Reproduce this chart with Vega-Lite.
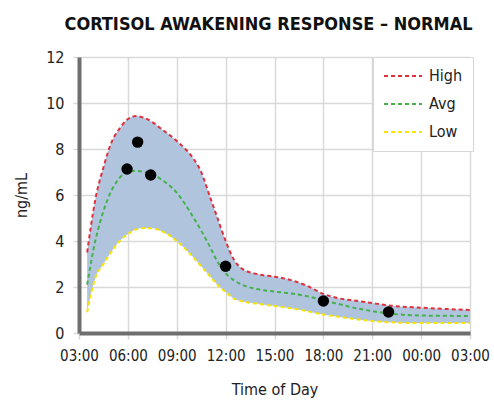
{
  "$schema": "https://vega.github.io/schema/vega-lite/v6.json",
  "autosize": "none",
  "width": 391,
  "height": 276,
  "padding": {"left": 79, "top": 57, "right": 24, "bottom": 73},
  "background": "white",
  "title": {
    "text": "CORTISOL AWAKENING RESPONSE – NORMAL",
    "font": "DejaVu Sans Condensed",
    "fontSize": 18,
    "fontWeight": "bold",
    "color": "#111111",
    "anchor": "middle",
    "offset": 15,
    "dx": -6
  },
  "datasets": {
    "band": [
      {"hour": 3.5, "High": 3.5, "Avg": 2.1, "Low": 0.9},
      {"hour": 4.0, "High": 5.8, "Avg": 4.0, "Low": 2.4},
      {"hour": 4.5, "High": 7.2, "Avg": 5.3, "Low": 3.0},
      {"hour": 5.0, "High": 8.3, "Avg": 6.2, "Low": 3.55},
      {"hour": 5.5, "High": 8.9, "Avg": 6.75, "Low": 4.0},
      {"hour": 6.0, "High": 9.3, "Avg": 7.0, "Low": 4.3},
      {"hour": 6.5, "High": 9.43, "Avg": 7.05, "Low": 4.5},
      {"hour": 7.0, "High": 9.35, "Avg": 7.0, "Low": 4.56},
      {"hour": 7.5, "High": 9.17, "Avg": 6.9, "Low": 4.55},
      {"hour": 8.0, "High": 8.9, "Avg": 6.7, "Low": 4.45},
      {"hour": 9.0, "High": 8.35, "Avg": 6.1, "Low": 4.0},
      {"hour": 10.0, "High": 7.6, "Avg": 5.05, "Low": 3.3},
      {"hour": 10.5, "High": 7.0, "Avg": 4.45, "Low": 2.9},
      {"hour": 11.0, "High": 6.0, "Avg": 3.8, "Low": 2.5},
      {"hour": 11.5, "High": 5.0, "Avg": 3.1, "Low": 2.1},
      {"hour": 12.0, "High": 4.0, "Avg": 2.6, "Low": 1.78},
      {"hour": 12.5, "High": 3.2, "Avg": 2.3, "Low": 1.5},
      {"hour": 13.0, "High": 2.8, "Avg": 2.1, "Low": 1.38},
      {"hour": 14.0, "High": 2.55, "Avg": 1.9, "Low": 1.27},
      {"hour": 15.0, "High": 2.45, "Avg": 1.8, "Low": 1.17},
      {"hour": 16.0, "High": 2.3, "Avg": 1.72, "Low": 1.08},
      {"hour": 17.0, "High": 2.05, "Avg": 1.6, "Low": 0.95},
      {"hour": 18.0, "High": 1.7, "Avg": 1.42, "Low": 0.8},
      {"hour": 19.0, "High": 1.5, "Avg": 1.25, "Low": 0.7},
      {"hour": 20.0, "High": 1.4, "Avg": 1.08, "Low": 0.6},
      {"hour": 21.0, "High": 1.3, "Avg": 0.95, "Low": 0.52},
      {"hour": 22.0, "High": 1.2, "Avg": 0.85, "Low": 0.47},
      {"hour": 24.0, "High": 1.1, "Avg": 0.76, "Low": 0.43},
      {"hour": 27.0, "High": 1.0, "Avg": 0.74, "Low": 0.43}
    ],
    "samples": [
      {"hour": 5.95, "value": 7.13},
      {"hour": 6.6, "value": 8.3},
      {"hour": 7.4, "value": 6.87},
      {"hour": 12.0, "value": 2.9},
      {"hour": 18.0, "value": 1.39},
      {"hour": 22.0, "value": 0.91}
    ]
  },
  "config": {
    "font": "DejaVu Sans Condensed",
    "view": {"stroke": null},
    "axis": {
      "labelFont": "DejaVu Sans Condensed",
      "titleFont": "DejaVu Sans Condensed",
      "labelFontSize": 15,
      "titleFontSize": 16,
      "titleFontWeight": "normal",
      "labelColor": "#222222",
      "titleColor": "#222222",
      "gridColor": "#d9d9d9",
      "gridWidth": 1.5,
      "domainColor": "#6e6e6e",
      "domainWidth": 4,
      "tickColor": "#d9d9d9",
      "tickWidth": 1.5,
      "tickSize": 6,
      "labelOverlap": false,
      "labelFlush": false
    },
    "legend": {
      "orient": "none",
      "legendX": 294,
      "legendY": 0,
      "padding": 10,
      "strokeColor": "#d6d6d6",
      "fillColor": "white",
      "symbolType": "stroke",
      "symbolSize": 1444,
      "symbolStrokeWidth": 2,
      "symbolDash": [4, 3],
      "labelFont": "DejaVu Sans Condensed",
      "labelFontSize": 16,
      "labelColor": "#222222",
      "labelOffset": 6,
      "clipHeight": 18,
      "rowPadding": 10
    }
  },
  "layer": [
    {
      "data": {"name": "band"},
      "mark": {"type": "area", "interpolate": "monotone", "color": "#b0c4de", "opacity": 1},
      "encoding": {
        "x": {
          "field": "hour",
          "type": "quantitative",
          "scale": {"domain": [3, 27], "nice": false, "zero": false},
          "axis": {
            "values": [3, 6, 9, 12, 15, 18, 21, 24, 27],
            "labelExpr": "(datum.value % 24 < 10 ? '0' : '') + (datum.value % 24) + ':00'",
            "title": "Time of Day",
            "labelPadding": 9,
            "titlePadding": 18
          }
        },
        "y": {
          "field": "High",
          "type": "quantitative",
          "scale": {"domain": [0, 12], "nice": false},
          "axis": {
            "values": [0, 2, 4, 6, 8, 10, 12],
            "title": "ng/mL",
            "labelFontSize": 16,
            "labelPadding": 9,
            "titlePadding": 16
          }
        },
        "y2": {"field": "Low"}
      }
    },
    {
      "data": {"name": "band"},
      "transform": [{"fold": ["High", "Avg", "Low"], "as": ["series", "level"]}],
      "mark": {"type": "line", "interpolate": "monotone", "strokeWidth": 2, "strokeDash": [4, 3]},
      "encoding": {
        "x": {"field": "hour", "type": "quantitative"},
        "y": {"field": "level", "type": "quantitative"},
        "color": {
          "field": "series",
          "type": "nominal",
          "scale": {"domain": ["High", "Avg", "Low"], "range": ["#e0303c", "#45b04c", "#f7e400"]},
          "legend": {"title": null}
        }
      }
    },
    {
      "data": {"name": "samples"},
      "mark": {"type": "point", "filled": true, "color": "black", "size": 130, "opacity": 1},
      "encoding": {
        "x": {"field": "hour", "type": "quantitative"},
        "y": {"field": "value", "type": "quantitative"}
      }
    }
  ]
}
